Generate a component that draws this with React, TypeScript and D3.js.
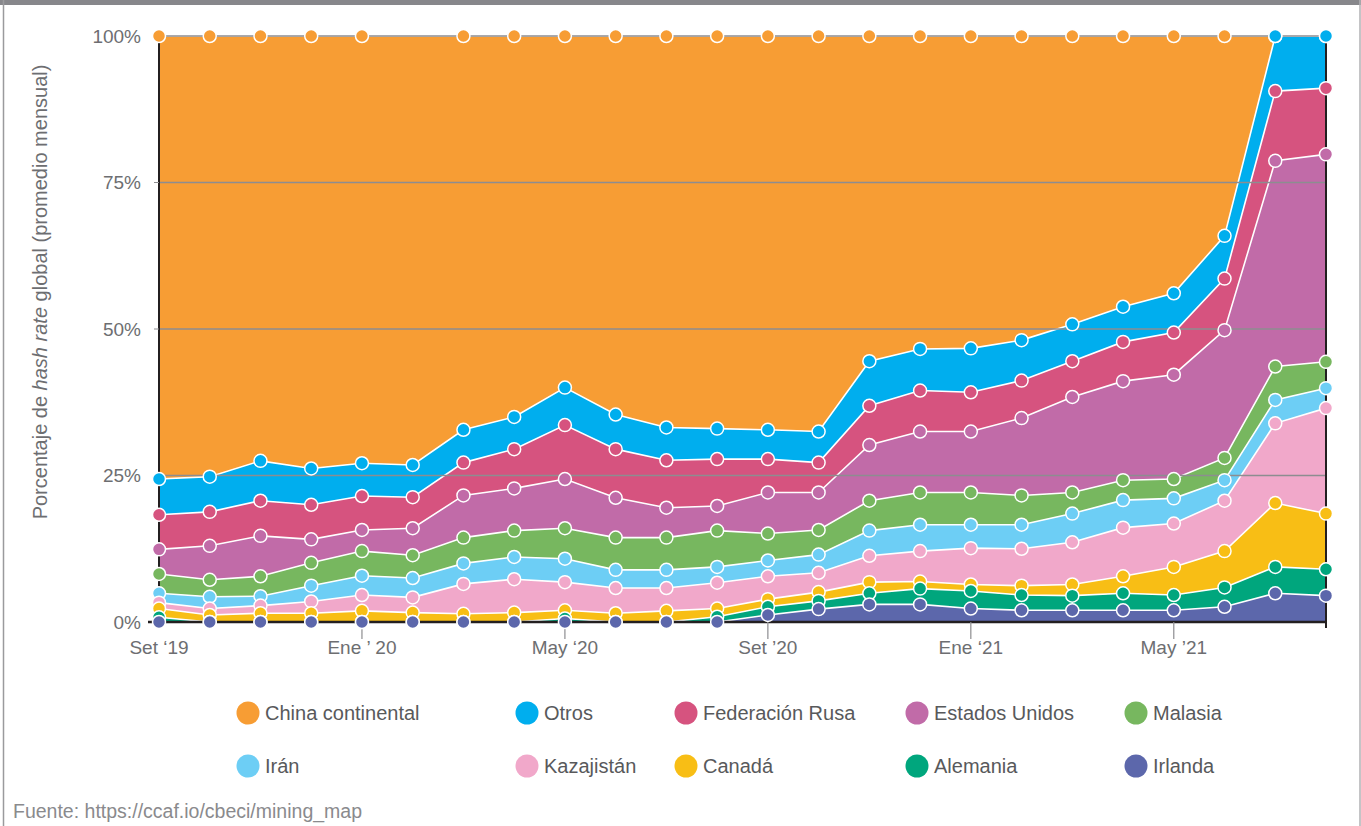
import React from 'react';
import * as d3 from 'd3';

// months, Set 2019 -> Ago 2021
const months = [
  '2019-09', '2019-10', '2019-11', '2019-12', '2020-01', '2020-02', '2020-03', '2020-04',
  '2020-05', '2020-06', '2020-07', '2020-08', '2020-09', '2020-10', '2020-11', '2020-12',
  '2021-01', '2021-02', '2021-03', '2021-04', '2021-05', '2021-06', '2021-07', '2021-08',
];
const tickMonths = ['2019-09', '2020-01', '2020-05', '2020-09', '2021-01', '2021-05'];
const tickLabels = ['Set \u201819', 'Ene \u2019 20', 'May \u201820', 'Set \u201920', 'Ene \u201821', 'May \u201921'];
const yTicks = [0, 25, 50, 75, 100];

// share of global hash rate (%)
const chinaContinental = [75.6, 75.2, 72.5, 73.8, 72.9, 73.2, 67.2, 65.0, 60.0, 64.6, 66.8, 67.0, 67.2, 67.5, 55.5, 53.4, 53.3, 51.9, 49.2, 46.2, 43.9, 34.1, 0, 0];
const otros = [6.1, 6.0, 6.8, 6.2, 5.6, 5.5, 5.6, 5.5, 6.4, 5.9, 5.6, 5.2, 5.0, 5.3, 7.6, 7.1, 7.5, 6.9, 6.3, 6.0, 6.7, 7.3, 9.4, 8.9];
const federacionRusa = [5.9, 5.8, 6.0, 5.9, 5.8, 5.3, 5.6, 6.7, 9.2, 8.3, 8.1, 8.0, 5.7, 5.1, 6.7, 7.0, 6.7, 6.4, 6.1, 6.7, 7.2, 8.8, 11.9, 11.3];
const estadosUnidos = [4.2, 5.8, 6.9, 4.0, 3.6, 4.6, 7.2, 7.2, 8.4, 6.8, 5.1, 4.2, 7.0, 6.4, 9.5, 10.4, 10.4, 13.2, 16.3, 16.9, 17.8, 21.8, 35.1, 35.4];
const malasia = [3.3, 2.9, 3.4, 3.9, 4.2, 3.9, 4.4, 4.5, 5.2, 5.5, 5.5, 6.2, 4.6, 4.2, 5.1, 5.5, 5.5, 5.0, 3.6, 3.4, 3.3, 3.8, 5.7, 4.5];
const iran = [1.6, 2.0, 1.6, 2.7, 3.3, 3.3, 3.5, 3.8, 4.0, 3.1, 3.1, 2.7, 2.7, 3.1, 4.3, 4.5, 4.0, 4.1, 4.9, 4.7, 4.3, 3.5, 4.0, 3.4];
const kazajistan = [1.0, 1.1, 1.3, 2.0, 2.7, 2.6, 5.1, 5.7, 4.8, 4.3, 3.9, 4.4, 3.9, 3.3, 4.5, 5.2, 6.2, 6.3, 7.2, 8.3, 7.4, 8.6, 13.6, 18.0];
const canada = [1.5, 1.2, 1.5, 1.5, 1.9, 1.6, 1.4, 1.6, 1.4, 1.5, 1.9, 1.4, 1.3, 1.5, 1.9, 1.2, 1.1, 1.6, 1.9, 2.9, 4.8, 6.2, 10.9, 9.5];
const alemania = [0.8, 0, 0, 0, 0, 0, 0, 0, 0.6, 0, 0, 0.9, 1.4, 1.4, 1.9, 2.7, 3.0, 2.6, 2.5, 2.9, 2.6, 3.3, 4.5, 4.5];
const irlanda = [0, 0, 0, 0, 0, 0, 0, 0, 0, 0, 0, 0, 1.2, 2.2, 3.0, 3.0, 2.3, 2.0, 2.0, 2.0, 2.0, 2.6, 4.9, 4.5];

// the original has no marker for China in Feb 2020
const hiddenDots = [{ key: 'china', month: '2020-02' }];

// bottom -> top stacking order
const layers = [
  { key: 'irlanda', label: 'Irlanda', color: '#5c67ab', values: irlanda },
  { key: 'alemania', label: 'Alemania', color: '#00a67d', values: alemania },
  { key: 'canada', label: 'Canadá', color: '#f8be15', values: canada },
  { key: 'kazajistan', label: 'Kazajistán', color: '#f1a8ca', values: kazajistan },
  { key: 'iran', label: 'Irán', color: '#6dcef5', values: iran },
  { key: 'malasia', label: 'Malasia', color: '#77b75f', values: malasia },
  { key: 'eeuu', label: 'Estados Unidos', color: '#c16ba8', values: estadosUnidos },
  { key: 'rusa', label: 'Federación Rusa', color: '#d6537f', values: federacionRusa },
  { key: 'otros', label: 'Otros', color: '#00aeee', values: otros },
  { key: 'china', label: 'China continental', color: '#f79d34', values: chinaContinental },
];

const legendRows = [
  ['china', 'otros', 'rusa', 'eeuu', 'malasia'],
  ['iran', 'kazajistan', 'canada', 'alemania', 'irlanda'],
];

const W = 1361;
const H = 826;
const margin = { top: 36, left: 159, right: 35, bottom: 204 };
const FONT = "'Liberation Sans', Arial, Helvetica, sans-serif";

export default function App() {
  const x = d3.scalePoint<string>().domain(months).range([margin.left, W - margin.right]);
  const y = d3.scaleLinear().domain([0, 100]).range([H - margin.bottom, margin.top]);

  const table = months.map((m, i) => {
    const row: Record<string, any> = { month: m };
    layers.forEach(l => { row[l.key] = l.values[i]; });
    return row;
  });
  const stacked = d3.stack<any>().keys(layers.map(l => l.key))(table);

  const area = d3.area<any>()
    .x(d => x(d.data.month)!)
    .y0(d => y(d[0]))
    .y1(d => y(d[1]));
  const line = d3.line<any>()
    .x(d => x(d.data.month)!)
    .y(d => y(d[1]));

  const colorOf = (k: string) => layers.find(l => l.key === k)!.color;
  const labelOf = (k: string) => layers.find(l => l.key === k)!.label;
  const x0 = margin.left;
  const x1 = W - margin.right;
  const y0 = y(0);

  const legendX = [248, 527, 686, 917, 1136];
  const legendY = [713, 766];

  return (
    <div style={{ position: 'absolute', left: 0, top: 0 }}>
      <svg width={W} height={H} viewBox={`0 0 ${W} ${H}`} style={{ display: 'block', background: '#fff' }}>
        {/* frame */}
        <rect x={0} y={0} width={W} height={5} fill="#87878b" />
        <line x1={3.5} x2={3.5} y1={0} y2={H} stroke="#9a9a9d" strokeWidth={1.5} />
        <line x1={W - 1} x2={W - 1} y1={0} y2={H} stroke="#b0b0b3" strokeWidth={1.5} />

        {/* areas */}
        {stacked.map((s, i) => (
          <path key={s.key} d={area(s) || ''} fill={layers[i].color} />
        ))}
        {stacked.map(s => (
          <path key={'l' + s.key} d={line(s) || ''} fill="none" stroke="#fff" strokeWidth={1.6} />
        ))}

        {/* gridlines */}
        {yTicks.filter(t => t > 0).map(t => (
          <line key={t} x1={x0} x2={x1} y1={y(t)} y2={y(t)} stroke="#8d8d90" strokeWidth={1.5} />
        ))}

        {/* axes */}
        <line x1={x0} x2={x0} y1={y(100)} y2={y0} stroke="#231f20" strokeWidth={2} />
        <line x1={x1} x2={x1} y1={y(100)} y2={y0 + 6} stroke="#231f20" strokeWidth={2} />
        <line x1={x0 - 11} x2={x1} y1={y0} y2={y0} stroke="#231f20" strokeWidth={2.5} />
        {yTicks.map(t => (
          <g key={'yt' + t}>
            {t > 0 && t < 100 && <line x1={x0 - 5} x2={x0} y1={y(t)} y2={y(t)} stroke="#8d8d90" strokeWidth={1} />}
            <text x={141} y={y(t)} dy="0.36em" textAnchor="end" fontFamily={FONT} fontSize={19} fill="#6d6e71">
              {t}%
            </text>
          </g>
        ))}
        {tickMonths.map((m, i) => (
          <g key={m}>
            {i > 0 && <line x1={x(m)} x2={x(m)} y1={y0} y2={y0 + 17} stroke="#8d8d90" strokeWidth={1.2} />}
            <text x={x(m)} y={y0 + 32} textAnchor="middle" fontFamily={FONT} fontSize={19} fill="#6d6e71">
              {tickLabels[i]}
            </text>
          </g>
        ))}

        <text
          transform={`translate(47,${292}) rotate(-90)`}
          textAnchor="middle"
          fontFamily={FONT}
          fontSize={20}
          fill="#6d6e71"
        >
          Porcentaje de <tspan fontStyle="italic">hash rate</tspan> global (promedio mensual)
        </text>

        {/* markers: top layer first so lower layers sit on top */}
        {[...stacked].reverse().map(s => {
          const color = colorOf(s.key);
          return (
            <g key={'d' + s.key}>
              {s.map(d => {
                const m = d.data.month;
                if (hiddenDots.some(h => h.key === s.key && h.month === m)) return null;
                return (
                  <circle
                    key={m}
                    cx={x(m)}
                    cy={y(d[1])}
                    r={6.5}
                    fill={color}
                    stroke="#fff"
                    strokeWidth={1.5}
                  />
                );
              })}
            </g>
          );
        })}

        {/* legend */}
        {legendRows.map((row, ri) =>
          row.map((k, ci) => (
            <g key={k} transform={`translate(${legendX[ci]},${legendY[ri]})`}>
              <circle r={11.5} fill={colorOf(k)} />
              <text x={17} dy="0.35em" fontFamily={FONT} fontSize={20} fill="#58595b">
                {labelOf(k)}
              </text>
            </g>
          ))
        )}

        <text x={13} y={818} fontFamily={FONT} fontSize={19.5} fill="#8a8a8d">
          Fuente: https://ccaf.io/cbeci/mining_map
        </text>
      </svg>
    </div>
  );
}
